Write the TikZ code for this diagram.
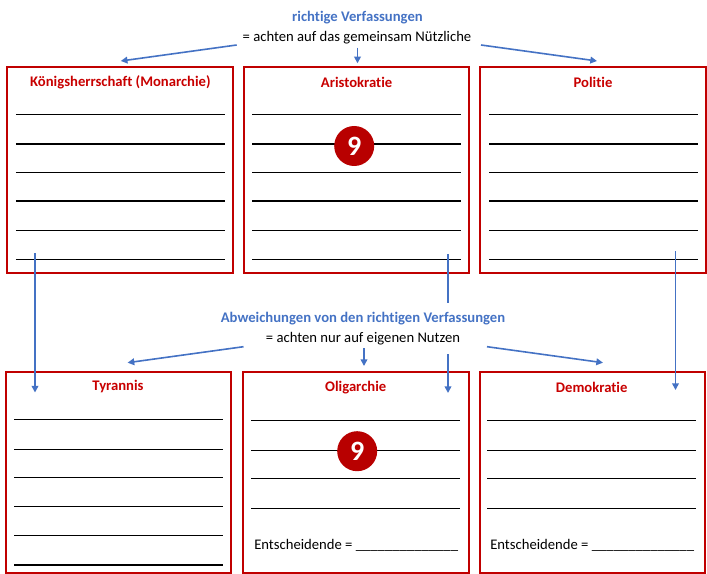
\documentclass[tikz,border=0pt]{standalone}
\usepackage{fontspec}
\setmainfont[Ligatures=NoCommon]{Carlito}
\usetikzlibrary{arrows.meta}
\definecolor{boxred}{HTML}{C00000}
\definecolor{titred}{HTML}{C80000}
\definecolor{offblue}{HTML}{4472C4}
\definecolor{circred}{HTML}{B80000}
\begin{document}
\begin{tikzpicture}[x=0.75pt,y=-0.75pt,
  box/.style={draw=boxred,line width=1.5pt,minimum width=225.5*0.75pt,inner sep=0pt},
  topbox/.style={box,minimum height=205.5*0.75pt},
  botbox/.style={box,minimum height=201.5*0.75pt},
  title/.style={text=titred,font=\fontsize{11}{13}\selectfont\bfseries,inner sep=0pt},
  bluetit/.style={text=offblue,font=\fontsize{11}{13}\selectfont\bfseries,inner sep=0pt},
  subtit/.style={font=\fontsize{11}{13}\selectfont,inner sep=0pt},
  wline/.style={line width=0.95pt,black},
  conn/.style={draw=offblue,line width=1.2pt,-{Triangle[length=5pt,width=5pt]}},
  connplain/.style={draw=offblue,line width=1.2pt},
  badge/.style={circle,fill=circred,minimum size=40*0.75pt,inner sep=0pt,text=white,font=\fontsize{21}{23}\selectfont\bfseries},
  ent/.style={font=\fontsize{11}{13}\selectfont,anchor=west,inner sep=0pt}]
\useasboundingbox (0,0) rectangle (707,574);
\begin{scope}
\clip (0,0) rectangle (707,574);
% top boxes
\node[topbox] (mon) at (119.8,169.75) {};
\node[topbox] (ari) at (356.5,169.75) {};
\node[topbox] (pol) at (593.2,169.75) {};
% bottom boxes
\node[botbox] (tyr) at (118.5,472.25) {};
\node[botbox] (oli) at (355.9,472.25) {};
\node[botbox] (dem) at (592.3,472.25) {};
\end{scope}
% titles
\node[title] (tmon) at (120.4,82.7) {Königsherrschaft (Monarchie)};
\node[title] (tari) at (356.6,82.7) {Aristokratie};
\node[title] (tpol) at (593,82.7) {Politie};
\node[title] (ttyr) at (118,386.7) {Tyrannis};
\node[title] (toli) at (355.7,387.3) {Oligarchie};
\node[title] (tdem) at (591.7,387.3) {Demokratie};
% writing lines top
\foreach \y in {114.3,144,172.3,201,230.3,259.3}{
  \draw[wline] (15.8,\y) -- (224.5,\y);
  \draw[wline] (252,\y) -- (460.7,\y);
  \draw[wline] (489,\y) -- (697.5,\y);
}
% writing lines bottom
\foreach \y in {419.3,449.3,477.3,506.3,535.3,565}{
  \draw[wline] (14,\y) -- (222.7,\y);
}
\foreach \y in {420.3,450.3,478.7,508.3}{
  \draw[wline] (251,\y) -- (460,\y);
  \draw[wline] (487.3,\y) -- (696,\y);
}
\node[ent] (eoli) at (254,545) {Entscheidende = \_\_\_\_\_\_\_\_\_\_\_\_\_\_};
\node[ent] (edem) at (490,545.7) {Entscheidende = \_\_\_\_\_\_\_\_\_\_\_\_\_\_};
% badges
\node[badge] (b1) at (354.2,146) {9};
\node[badge] (b2) at (357.2,451.2) {9};
% headings
\node[bluetit] (h1) at (357.5,17.3) {richtige Verfassungen};
\node[subtit] (s1) at (357,37.3) {= achten auf das gemeinsam Nützliche};
\node[bluetit] (h2) at (363,319) {Abweichungen von den richtigen Verfassungen};
\node[subtit] (s2) at (363,339) {= achten nur auf eigenen Nutzen};
% connector coordinates
\coordinate (a1s) at (236.7,45);   \coordinate (a1e) at (120.8,61);
\coordinate (a2s) at (357.5,47.7); \coordinate (a2e) at (357.5,63.3);
\coordinate (a3s) at (481,45);     \coordinate (a3e) at (597,61);
\coordinate (c1s) at (243.5,346.7); \coordinate (c1e) at (127.6,362.7);
\coordinate (c2s) at (364,348);     \coordinate (c2e) at (364,366);
\coordinate (c3s) at (487,346.7);   \coordinate (c3e) at (603,362.7);
\coordinate (v1s) at (35,253);    \coordinate (v1e) at (35,392.5);
\coordinate (v2s) at (448,254);   \coordinate (v2m) at (448,303);
\coordinate (v2n) at (448,354);   \coordinate (v2e) at (448,393);
\coordinate (v3s) at (675.5,251); \coordinate (v3e) at (675.5,390);
\draw[conn] (a1s) -- (a1e);
\draw[conn] (a2s) -- (a2e);
\draw[conn] (a3s) -- (a3e);
\draw[conn] (c1s) -- (c1e);
\draw[conn] (c2s) -- (c2e);
\draw[conn] (c3s) -- (c3e);
\draw[conn] (v1s) -- (v1e);
\draw[connplain] (v2s) -- (v2m);
\draw[conn] (v2n) -- (v2e);
\draw[conn] (v3s) -- (v3e);
\end{tikzpicture}
\end{document}
